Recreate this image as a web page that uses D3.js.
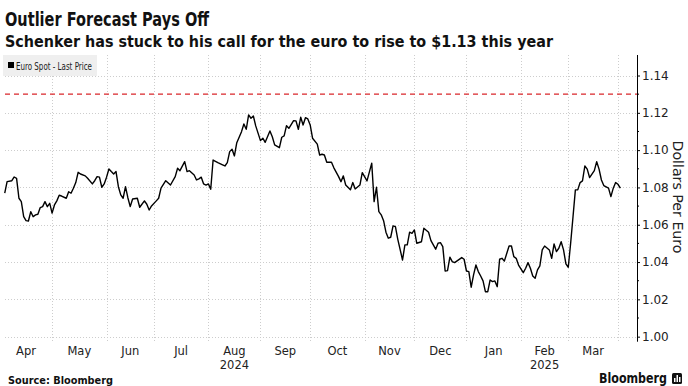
<!DOCTYPE html>
<meta charset="utf-8">
<style>
body { margin: 0; background: #fff; }
text { font-family: "DejaVu Sans", sans-serif; }
</style>
<script src="https://d3js.org/d3.v7.min.js"></script>
<div id="chart"></div>
<script>
// EUR/USD spot, one point per read vertex of the line (trading days)
var dates = [
 "2024-04-03","2024-04-04","2024-04-08","2024-04-09","2024-04-10","2024-04-11","2024-04-12","2024-04-15","2024-04-16","2024-04-17",
 "2024-04-18","2024-04-19","2024-04-22","2024-04-23","2024-04-24","2024-04-25","2024-04-26","2024-04-29","2024-04-30","2024-05-01",
 "2024-05-02","2024-05-03","2024-05-06","2024-05-07","2024-05-09","2024-05-10","2024-05-13","2024-05-14","2024-05-15","2024-05-16",
 "2024-05-17","2024-05-21","2024-05-22","2024-05-24","2024-05-27","2024-05-28","2024-05-29","2024-05-30","2024-05-31","2024-06-03",
 "2024-06-04","2024-06-05","2024-06-06","2024-06-07","2024-06-10","2024-06-11","2024-06-12","2024-06-13","2024-06-14","2024-06-17",
 "2024-06-18","2024-06-20","2024-06-21","2024-06-25","2024-06-26","2024-06-27","2024-06-28","2024-07-02","2024-07-03","2024-07-04",
 "2024-07-08","2024-07-10","2024-07-12","2024-07-15","2024-07-16","2024-07-18","2024-07-19","2024-07-22","2024-07-24","2024-07-25",
 "2024-07-26","2024-07-29","2024-07-30","2024-07-31","2024-08-01","2024-08-02","2024-08-05","2024-08-07","2024-08-09","2024-08-12",
 "2024-08-13","2024-08-14","2024-08-15","2024-08-16","2024-08-19","2024-08-21","2024-08-22","2024-08-23","2024-08-26","2024-08-27",
 "2024-08-28","2024-08-29","2024-09-02","2024-09-03","2024-09-04","2024-09-06","2024-09-09","2024-09-10","2024-09-12","2024-09-13",
 "2024-09-16","2024-09-17","2024-09-18","2024-09-20","2024-09-23","2024-09-24","2024-09-25","2024-09-26","2024-09-27","2024-09-30",
 "2024-10-01","2024-10-02","2024-10-04","2024-10-07","2024-10-08","2024-10-09","2024-10-10","2024-10-14","2024-10-15","2024-10-17",
 "2024-10-18","2024-10-21","2024-10-22","2024-10-24","2024-10-25","2024-10-28","2024-10-30","2024-10-31","2024-11-04","2024-11-06",
 "2024-11-07","2024-11-08","2024-11-11","2024-11-12","2024-11-13","2024-11-14","2024-11-15","2024-11-18","2024-11-19","2024-11-20",
 "2024-11-21","2024-11-25","2024-11-26","2024-11-27","2024-11-28","2024-11-29","2024-12-02","2024-12-03","2024-12-05","2024-12-06",
 "2024-12-10","2024-12-11","2024-12-13","2024-12-16","2024-12-17","2024-12-18","2024-12-19","2024-12-20","2024-12-23","2024-12-24",
 "2024-12-25","2024-12-30","2024-12-31","2025-01-01","2025-01-02","2025-01-03","2025-01-06","2025-01-07","2025-01-08","2025-01-09",
 "2025-01-10","2025-01-13","2025-01-14","2025-01-15","2025-01-16","2025-01-17","2025-01-20","2025-01-21","2025-01-22","2025-01-23",
 "2025-01-27","2025-01-28","2025-01-29","2025-01-30","2025-01-31","2025-02-04","2025-02-05","2025-02-06","2025-02-07","2025-02-10",
 "2025-02-11","2025-02-12","2025-02-13","2025-02-14","2025-02-17","2025-02-19","2025-02-20","2025-02-21","2025-02-24","2025-02-25",
 "2025-02-26","2025-02-27","2025-02-28","2025-03-03","2025-03-04","2025-03-05","2025-03-06","2025-03-07","2025-03-10","2025-03-11",
 "2025-03-12","2025-03-13","2025-03-14","2025-03-18","2025-03-19","2025-03-20","2025-03-21","2025-03-24","2025-03-26","2025-03-27",
 "2025-03-28","2025-03-31","2025-04-01","2025-04-02"
];
var prices = [
 1.0769,1.0831,1.0836,1.0856,1.0849,1.0742,1.0724,1.0643,1.0622,1.0620,
 1.0670,1.0643,1.0653,1.0656,1.0692,1.0697,1.0724,1.0697,1.0715,1.0662,
 1.0706,1.0728,1.0758,1.0754,1.0742,1.0777,1.0769,1.0796,1.0826,1.0881,
 1.0872,1.0862,1.0849,1.0819,1.0836,1.0858,1.0855,1.0801,1.0819,1.0855,
 1.0899,1.0885,1.0872,1.0885,1.0804,1.0760,1.0742,1.0804,1.0745,1.0697,
 1.0738,1.0742,1.0694,1.0728,1.0710,1.0679,1.0701,1.0728,1.0742,1.0796,
 1.0836,1.0813,1.0858,1.0903,1.0890,1.0938,1.0885,1.0890,1.0867,1.0840,
 1.0846,1.0855,1.0819,1.0813,1.0819,1.0790,1.0947,1.0933,1.0921,1.0915,
 1.0933,1.0992,1.1005,1.0969,1.1040,1.1099,1.1140,1.1112,1.1189,1.1171,
 1.1183,1.1130,1.1051,1.1064,1.1042,1.1103,1.1072,1.1028,1.1013,1.1069,
 1.1076,1.1131,1.1117,1.1158,1.1157,1.1112,1.1176,1.1135,1.1174,1.1167,
 1.1135,1.1064,1.1032,1.0974,1.0978,1.0974,1.0935,1.0935,1.0905,1.0858,
 1.0831,1.0862,1.0813,1.0787,1.0826,1.0792,1.0813,1.0879,1.0835,1.0930,
 1.0724,1.0801,1.0670,1.0653,1.0622,1.0560,1.0528,1.0533,1.0594,1.0590,
 1.0522,1.0411,1.0492,1.0492,1.0560,1.0554,1.0572,1.0501,1.0509,1.0581,
 1.0560,1.0515,1.0469,1.0501,1.0504,1.0483,1.0352,1.0354,1.0426,1.0402,
 1.0397,1.0424,1.0415,1.0352,1.0349,1.0265,1.0331,1.0384,1.0349,1.0325,
 1.0299,1.0241,1.0241,1.0304,1.0295,1.0299,1.0268,1.0415,1.0420,1.0405,
 1.0486,1.0486,1.0429,1.0420,1.0384,1.0343,1.0367,1.0397,1.0367,1.0325,
 1.0313,1.0358,1.0379,1.0465,1.0486,1.0465,1.0420,1.0497,1.0456,1.0474,
 1.0509,1.0465,1.0390,1.0372,1.0501,1.0643,1.0787,1.0787,1.0826,1.0835,
 1.0915,1.0898,1.0853,1.0890,1.0938,1.0898,1.0840,1.0810,1.0796,1.0751,
 1.0796,1.0826,1.0817,1.0796
];
var target = 1.13;
var yTicks = [1.00, 1.02, 1.04, 1.06, 1.08, 1.10, 1.12, 1.14];
var yMinorTicks = [1.01, 1.03, 1.05, 1.07, 1.09, 1.11, 1.13];
var monthLabels = ["Apr","May","Jun","Jul","Aug","Sep","Oct","Nov","Dec","Jan","Feb","Mar"];
var yearLabels = [{month: "Aug", year: "2024"}, {month: "Feb", year: "2025"}];

var W = 688, H = 386;
var plotLeft = 5, plotRight = 637, plotTop = 55, plotBottom = 341.7;

var svg = d3.select("#chart").append("svg")
  .attr("width", W).attr("height", H);

// x axis runs on trading days (weekends skipped), counted from 1 Apr 2024
var t0 = new Date(Date.UTC(2024, 3, 1));
function tradeIndex(d) {
  return d3.utcDays(t0, d).filter(function(e) { return e.getUTCDay() % 6 !== 0; }).length;
}
var x = d3.scaleLinear().domain([0, 261]).range([0, 618]);
var y = d3.scaleLinear().domain([0.9973, 1.151]).range([plotBottom, plotTop]);

var parse = d3.utcParse("%Y-%m-%d");
var data = dates.map(function(d, i) { return {date: parse(d), value: prices[i]}; });

var monthStarts = d3.utcMonth.range(new Date(Date.UTC(2024, 3, 1)), new Date(Date.UTC(2025, 4, 1)));
var monthPx = monthStarts.map(function(m) { return x(tradeIndex(m)); });

// grid
var grid = svg.append("g").attr("stroke", "#cdcdcd").attr("stroke-width", 1).attr("stroke-dasharray", "1,2");
grid.selectAll("line.h").data(yTicks).enter().append("line")
  .attr("x1", plotLeft).attr("x2", plotRight)
  .attr("y1", function(d) { return Math.round(y(d)) + 0.5; })
  .attr("y2", function(d) { return Math.round(y(d)) + 0.5; });
grid.selectAll("line.v").data(monthPx.slice(1)).enter().append("line")
  .attr("y1", plotTop).attr("y2", plotBottom)
  .attr("x1", function(d) { return Math.round(d) + 0.5; })
  .attr("x2", function(d) { return Math.round(d) + 0.5; });

// target line
svg.append("line")
  .attr("x1", plotLeft).attr("x2", plotRight)
  .attr("y1", y(target)).attr("y2", y(target))
  .attr("stroke", "#d9262b").attr("stroke-width", 1.3).attr("stroke-dasharray", "5,4");

// price line
var line = d3.line()
  .x(function(d) { return x(tradeIndex(d.date)); })
  .y(function(d) { return y(d.value); });
svg.append("path").datum(data)
  .attr("d", line)
  .attr("fill", "none").attr("stroke", "#000").attr("stroke-width", 1.4)
  .attr("stroke-linejoin", "round");

// legend
svg.append("rect").attr("x", 3).attr("y", 55).attr("width", 94).attr("height", 21).attr("fill", "#efefef");
svg.append("rect").attr("x", 8).attr("y", 62).attr("width", 6).attr("height", 6).attr("fill", "#000");
svg.append("text").attr("x", 16).attr("y", 69.5).attr("font-size", 11).attr("fill", "#222")
  .attr("textLength", 76).attr("lengthAdjust", "spacingAndGlyphs")
  .text("Euro Spot - Last Price");

// y axis on the right
var yAxis = svg.append("g").attr("transform", "translate(" + plotRight + ",0)")
  .call(d3.axisRight(y).tickValues(yTicks).tickSize(3).tickPadding(2).tickFormat(d3.format(".2f")));
yAxis.select(".domain").attr("stroke", "#000").attr("d", "M0.5," + plotTop + "V" + plotBottom);
yAxis.selectAll(".tick line").attr("stroke", "#000");
yAxis.selectAll(".tick text").attr("font-size", 12).attr("fill", "#222").attr("font-family", "DejaVu Sans");
svg.append("g").attr("transform", "translate(" + plotRight + ",0)")
  .selectAll("line").data(yMinorTicks).enter().append("line")
  .attr("x1", 0).attr("x2", 2)
  .attr("y1", function(d) { return y(d); }).attr("y2", function(d) { return y(d); })
  .attr("stroke", "#000");

svg.append("text")
  .attr("transform", "translate(672.5,197) rotate(90)")
  .attr("text-anchor", "middle").attr("font-size", 14).attr("fill", "#222")
  .attr("textLength", 113).attr("lengthAdjust", "spacingAndGlyphs")
  .text("Dollars Per Euro");

// month labels centred in each month
var labelG = svg.append("g").attr("font-size", 11.5).attr("fill", "#222").attr("text-anchor", "middle");
monthLabels.forEach(function(m, i) {
  var cx = (monthPx[i] + monthPx[i + 1]) / 2;
  labelG.append("text").attr("x", cx).attr("y", 355).text(m);
  yearLabels.forEach(function(yl) {
    if (yl.month === m) labelG.append("text").attr("x", cx).attr("y", 369).text(yl.year);
  });
});

// titles
svg.append("text").attr("x", 5).attr("y", 26)
  .attr("font-family", "Liberation Sans").attr("font-weight", "bold").attr("font-size", 20).attr("fill", "#111")
  .attr("textLength", 204).attr("lengthAdjust", "spacingAndGlyphs")
  .text("Outlier Forecast Pays Off");
svg.append("text").attr("x", 5).attr("y", 47)
  .attr("font-family", "Liberation Sans").attr("font-weight", "bold").attr("font-size", 15).attr("fill", "#111")
  .attr("textLength", 548).attr("lengthAdjust", "spacingAndGlyphs")
  .text("Schenker has stuck to his call for the euro to rise to $1.13 this year");

// footer
svg.append("text").attr("x", 8).attr("y", 384)
  .attr("font-family", "Liberation Sans").attr("font-weight", "bold").attr("font-size", 11).attr("fill", "#111")
  .attr("textLength", 105).attr("lengthAdjust", "spacingAndGlyphs")
  .text("Source: Bloomberg");
svg.append("text").attr("x", 599).attr("y", 383)
  .attr("font-family", "Liberation Sans").attr("font-weight", "bold").attr("font-size", 14).attr("fill", "#111")
  .attr("textLength", 68).attr("lengthAdjust", "spacingAndGlyphs")
  .text("Bloomberg");
var logo = svg.append("g").attr("transform", "translate(672,373)");
logo.append("rect").attr("width", 10).attr("height", 11).attr("rx", 1.5).attr("fill", "#111");
logo.selectAll("rect.b").data([[2, 5, 1.5, 4], [4.5, 2, 1.5, 7], [7, 4, 1.5, 5]]).enter().append("rect")
  .attr("x", function(d) { return d[0]; }).attr("y", function(d) { return d[1]; })
  .attr("width", function(d) { return d[2]; }).attr("height", function(d) { return d[3]; })
  .attr("fill", "#fff");
</script>
